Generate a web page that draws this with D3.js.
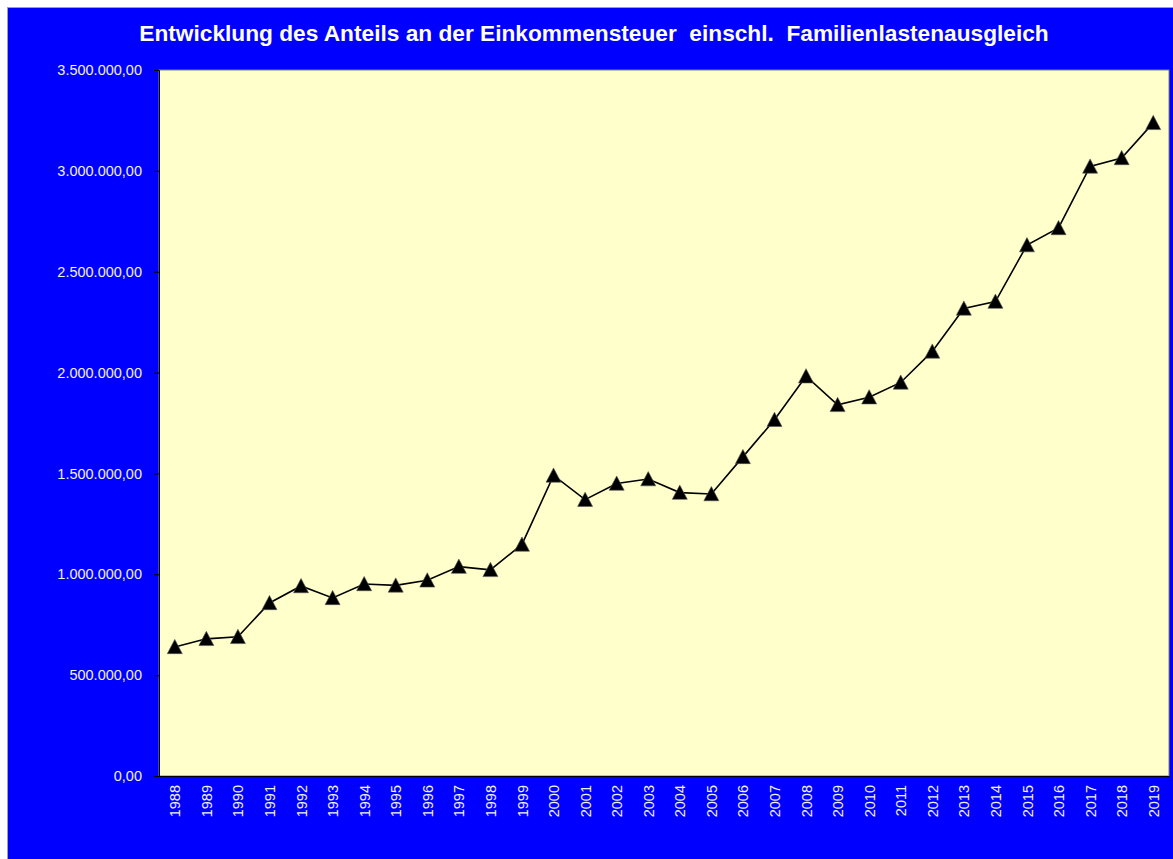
<!DOCTYPE html>
<html>
<head>
<meta charset="utf-8">
<script src="https://cdn.jsdelivr.net/npm/d3@7"></script>
<style>
  body { margin: 0; background: #fff; }
  svg { display: block; font-family: "Liberation Sans", Arial, sans-serif; }
</style>
</head>
<body>
<svg id="chart" width="1173" height="859"></svg>
<script>
const years = [1988, 1989, 1990, 1991, 1992, 1993, 1994, 1995, 1996, 1997,
  1998, 1999, 2000, 2001, 2002, 2003, 2004, 2005, 2006, 2007,
  2008, 2009, 2010, 2011, 2012, 2013, 2014, 2015, 2016, 2017, 2018, 2019];
const values = [640000, 680000, 690000, 858000, 942000, 883000, 952000, 945000, 970000, 1038000,
  1022000, 1148000, 1490000, 1370000, 1450000, 1472000, 1405000, 1398000, 1582000, 1766000,
  1982000, 1840000, 1878000, 1951000, 2105000, 2318000, 2352000, 2632000, 2717000, 3022000, 3064000, 3238000];
const yTicks = [0, 500000, 1000000, 1500000, 2000000, 2500000, 3000000, 3500000];
const title = "Entwicklung des Anteils an der Einkommensteuer  einschl.  Familienlastenausgleich";

const svg = d3.select("#chart");
const margin = { top: 70, right: 4, bottom: 83, left: 159 };
const width = 1173 - margin.left - margin.right;
const height = 859 - margin.top - margin.bottom;

// chart area
svg.append("rect")
  .attr("x", 7.5).attr("y", 7.5)
  .attr("width", 1173).attr("height", 859)
  .attr("fill", "#0000ff")
  .attr("stroke", "#a0a0a0");

svg.append("text")
  .attr("x", 594).attr("y", 41)
  .attr("text-anchor", "middle")
  .attr("fill", "#fff")
  .attr("font-size", 22.7)
  .attr("font-weight", "bold")
  .style("white-space", "pre")
  .text(title);

const x = d3.scalePoint().domain(years).range([0, width]).padding(0.5);
const y = d3.scaleLinear().domain([0, 3500000]).range([height, 0]);

const g = svg.append("g")
  .attr("transform", `translate(${margin.left}, ${margin.top})`);

g.append("rect")
  .attr("width", width).attr("height", height)
  .attr("fill", "#ffffcc")
  .attr("stroke", "#808080");

const fmt = d3.formatLocale({ decimal: ",", thousands: ".", grouping: [3], currency: ["", "€"] }).format(",.2f");

const yAxis = g.append("g")
  .call(d3.axisLeft(y).tickValues(yTicks).tickFormat(fmt).tickSize(5).tickPadding(12));
yAxis.select(".domain").attr("stroke", "#000");
yAxis.selectAll("line").attr("stroke", "#000");
yAxis.selectAll("text").attr("fill", "#f0f0f0").attr("font-size", 14.5)
  .attr("font-family", "Liberation Sans, Arial, sans-serif");

const xAxis = g.append("g")
  .attr("transform", `translate(0, ${height})`)
  .call(d3.axisBottom(x).tickSize(0).tickPadding(0));
xAxis.select(".domain").attr("stroke", "#000");
xAxis.selectAll("text")
  .attr("fill", "#f0f0f0").attr("font-size", 14.5)
  .attr("font-family", "Liberation Sans, Arial, sans-serif")
  .attr("transform", "rotate(-90)")
  .attr("text-anchor", "end")
  .attr("x", -9).attr("y", 0).attr("dy", "0.35em");

const line = d3.line()
  .x((d, i) => x(years[i]))
  .y(d => y(d));

g.append("path")
  .datum(values)
  .attr("fill", "none")
  .attr("stroke", "#000")
  .attr("stroke-width", 1.6)
  .attr("d", line);

const tri = {
  draw(ctx, size) {
    const r = Math.sqrt(size) / 2;
    ctx.moveTo(0, -r);
    ctx.lineTo(r, r * 0.9);
    ctx.lineTo(-r, r * 0.9);
    ctx.closePath();
  }
};

g.selectAll(".marker")
  .data(values)
  .join("path")
  .attr("class", "marker")
  .attr("transform", (d, i) => `translate(${x(years[i])}, ${y(d)})`)
  .attr("d", d3.symbol(tri, 225))
  .attr("fill", "#000")
  .attr("stroke", "#555")
  .attr("stroke-width", 0.6);
</script>
</body>
</html>
